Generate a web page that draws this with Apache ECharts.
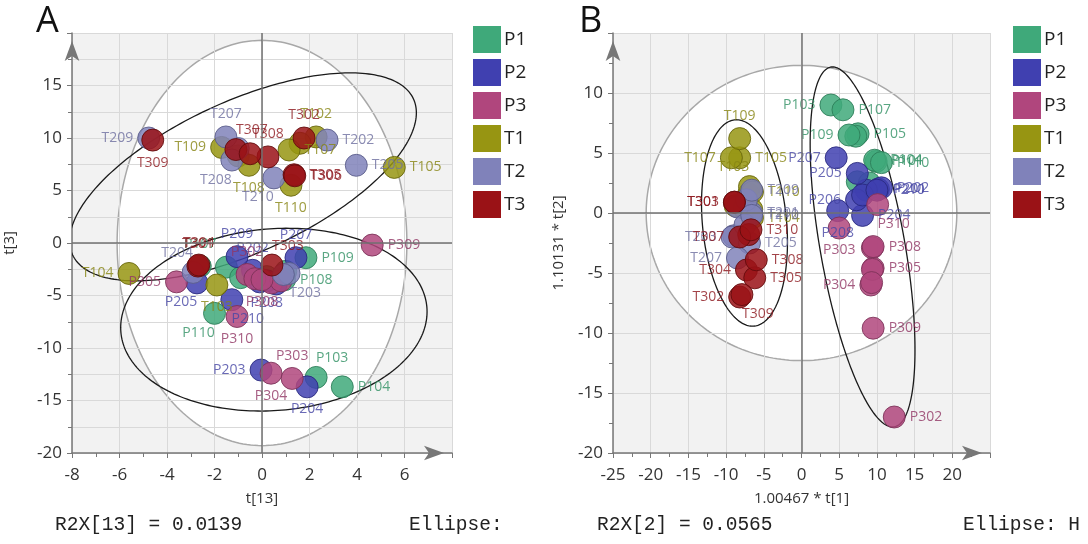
<!DOCTYPE html>
<html><head><meta charset="utf-8">
<script src="https://cdn.jsdelivr.net/npm/echarts@6/dist/echarts.min.js"></script>
<style>html,body{margin:0;padding:0;background:#fff}#c{width:1088px;height:544px}</style>
</head><body><div id="c"></div>
<script>
// ---------- data ----------
const GROUPS = ['P1','P2','P3','T1','T2','T3'];

// Panel A : t[13] vs t[3]
const A_P1 = [['P101',-1.5,-2.3],['P102',0.2,-3.2],['P103',2.28,-12.8],['P104',3.38,-13.7],['P105',1.0,-2.7],['P106',-0.9,-3.3],['P107',-2.6,-2.2],['P108',0.95,-3.5],['P109',1.85,-1.4],['P110',-2.0,-6.7]];
const A_P2 = [['P201',-0.1,-3.7],['P202',-0.4,-2.6],['P203',-0.04,-12.1],['P204',1.9,-13.7],['P205',-2.74,-3.8],['P206',0.6,-3.9],['P207',1.43,-1.4],['P208',0.2,-3.6],['P209',-1.05,-1.3],['P210',-1.27,-5.4]];
const A_P3 = [['P301',0.4,-3.8],['P302',-0.63,-3.0],['P303',1.27,-12.9],['P304',0.38,-12.4],['P305',-3.6,-3.7],['P306',-0.3,-3.4],['P307',0.8,-3.6],['P308',0.0,-3.5],['P309',4.64,-0.2],['P310',-1.05,-7.0]];
const A_T1 = [['T101',-1.0,8.3],['T102',2.28,10.1],['T103',-1.9,-4.0],['T104',-5.6,-2.9],['T105',5.57,7.2],['T106',1.6,9.5],['T107',1.14,8.86],['T108',-0.55,7.4],['T109',-1.7,9.1],['T110',1.22,5.5]];
const A_T2 = [['T201',-1.0,9.0],['T202',2.74,9.8],['T203',1.14,-2.9],['T204',-2.9,-2.8],['T205',3.97,7.4],['T206',0.9,-3.0],['T207',-1.52,10.1],['T208',-1.27,7.9],['T209',-4.77,10.0],['T210',0.5,6.2]];
const A_T3 = [['T301',-2.7,-2.2],['T302',1.77,10.0],['T303',0.42,-2.1],['T304',-2.66,-2.1],['T305',1.35,6.5],['T306',1.38,6.4],['T307',-1.1,8.9],['T308',0.25,8.2],['T309',-4.6,9.8],['T310',-0.5,8.5]];

// Panel B : 1.00467*t[1] vs 1.10131*t[2]
const B_P1 = [['P101',9.9,4.3],['P102',7.4,2.6],['P103',3.9,9.0],['P104',9.7,4.4],['P105',7.5,6.6],['P106',7.2,6.4],['P107',5.5,8.6],['P108',9.0,2.5],['P109',6.3,6.5],['P110',10.6,4.2]];
const B_P2 = [['P201',10.2,2.0],['P202',10.6,2.1],['P203',8.6,1.9],['P204',8.1,-0.2],['P205',7.4,3.3],['P206',7.3,1.1],['P207',4.6,4.6],['P208',4.8,0.2],['P209',8.1,1.5],['P210',10.0,1.9]];
const B_P3 = [['P301',9.4,-2.9],['P302',12.3,-17.0],['P303',5.0,-1.25],['P304',9.2,-6.0],['P305',9.5,-4.6],['P306',9.4,-4.7],['P307',9.3,-5.8],['P308',9.5,-2.8],['P309',9.5,-9.6],['P310',10.1,0.7]];
const B_T1 = [['T101',-7.0,1.6],['T102',-8.8,0.6],['T103',-6.9,2.2],['T104',-6.5,-0.4],['T105',-8.2,4.6],['T106',-6.6,0.3],['T107',-9.3,4.6],['T108',-7.6,0.4],['T109',-8.2,6.2],['T110',-6.5,1.75]];
const B_T2 = [['T201',-6.6,0.0],['T202',-9.0,-1.9],['T203',-9.2,-2.0],['T204',-8.5,0.5],['T205',-6.9,-2.5],['T206',-7.5,-1.0],['T207',-8.5,-3.75],['T208',-7.3,1.1],['T209',-6.6,1.9],['T210',-6.6,-0.2]];
const B_T3 = [['T301',-8.9,0.9],['T302',-8.2,-7.0],['T303',-8.9,0.9],['T304',-7.3,-4.75],['T305',-6.2,-5.4],['T306',-7.0,-1.8],['T307',-8.2,-2.0],['T308',-6.0,-3.9],['T309',-7.9,-6.8],['T310',-6.7,-1.4]];

// ellipses: [cx, cy, ax, ay, bx, by]  (point = c + a*cos t + b*sin t)
const A_HOTELLING = [[0,0,6.1,0,0,19.3]];
const A_GROUP_ELLIPSES = [[-0.8,6.3,7.3,6.1,0,7.8],[0.5,-7.3,6.45,0.76,0,8.67]];
const B_HOTELLING = [[0,0,20.6,0,0,12.3]];
const B_GROUP_ELLIPSES = [[-7.56,-0.83,-1.06,8.6,5.6,0],[8.1,-2.83,-3.98,15.0,5.7,0]];

// tick labels
const A_X_LABELS = [-8,-6,-4,-2,0,2,4,6];
const A_Y_LABELS = [-20,-15,-10,-5,0,5,10,15];
const B_X_LABELS = [-25,-20,-15,-10,-5,0,5,10,15,20];
const B_Y_LABELS = [-20,-15,-10,-5,0,5,10];

// ---------- styling (label placement per point) ----------
const A_LABEL = {P103:'tr',P104:'r',P107:'t',P108:'r',P109:'r',P110:'bl',
  P202:'t',P203:'l',P204:'b',P205:'bl',P207:'t',P208:'b',P209:'t',P210:'br',
  P302:'t',P303:'t',P304:'b',P305:'l',P308:'b',P309:'r',P310:'b',
  T102:'t',T103:'b',T104:'l',T105:'r',T107:'r',T108:'b',T109:'l',T110:'b',
  T202:'r',T203:'br',T204:'tl',T205:'r',T207:'t',T208:'bl',T209:'l',T210:'bl',
  T301:'t',T302:'t',T303:'tr',T304:'t',T305:'r',T306:'r',T307:'tr',T308:'t',T309:'b'};
const B_LABEL = {P101:'r',P103:'l',P104:'r',P105:'r',P107:'r',P109:'l',P110:'r',
  P201:'r',P202:'r',P204:'r',P205:'l',P206:'l',P207:'l',P208:'b',P210:'r',
  P302:'r',P303:'b',P304:'l',P305:'r',P308:'r',P309:'r',P310:'br',
  T103:'tl',T104:'r',T105:'r',T107:'l',T109:'t',T110:'r',
  T201:'r',T203:'l',T205:'r',T207:'l',T209:'r',T210:'r',
  T301:'l',T302:'l',T303:'l',T304:'l',T305:'r',T307:'l',T308:'r',T309:'br',T310:'r'};

const COLORS = {P1:'#3fa97a',P2:'#4040b0',P3:'#b0467d',T1:'#979512',T2:'#8082ba',T3:'#9a1216'};
const BORDERS = {P1:'#2b7b57',P2:'#28287c',P3:'#7a3157',T1:'#65640a',T2:'#585a88',T3:'#600a0c'};
const TEXTC = {P1:'rgba(50,145,100,0.95)',P2:'rgba(70,70,165,0.95)',P3:'rgba(145,55,100,0.95)',T1:'rgba(135,133,18,0.95)',T2:'rgba(110,112,160,0.95)',T3:'rgba(140,22,28,0.95)'};
const FONT = "'Open Sans', 'Noto Sans', sans-serif";

function labelCfg(code){
  const base = {show:true, fontSize:14, fontFamily:FONT, distance:4};
  switch(code){
    case 'l': return Object.assign(base,{position:'left'});
    case 'r': return Object.assign(base,{position:'right'});
    case 't': return Object.assign(base,{position:'top'});
    case 'b': return Object.assign(base,{position:'bottom'});
    case 'tl': return Object.assign(base,{position:'top',offset:[-16,3]});
    case 'tr': return Object.assign(base,{position:'top',offset:[16,3]});
    case 'bl': return Object.assign(base,{position:'bottom',offset:[-16,-3]});
    case 'br': return Object.assign(base,{position:'bottom',offset:[16,-3]});
  }
  return {show:false};
}

function scatter(idx, g, rows, labelMap){
  return {
    type:'scatter', name:g, xAxisIndex:idx, yAxisIndex:idx, z:3,
    symbolSize:22,
    itemStyle:{color:COLORS[g], borderColor:BORDERS[g], borderWidth:1, opacity:0.85},
    label:{color:TEXTC[g]},
    emphasis:{disabled:true},
    data: rows.map(r=>{
      const lc = labelCfg(labelMap[r[0]]);
      if(lc.show) lc.color = TEXTC[g];
      return {name:r[0], value:[r[1],r[2]], label:Object.assign(lc,{formatter:'{b}'})};
    })
  };
}

function ellipse(idx, list, fill, stroke, lw, z, extra){
  return Object.assign({
    type:'custom', xAxisIndex:idx, yAxisIndex:idx, z:z, silent:true, clip:true,
    data: list.map(e=>[e[0],e[1]]),
    encode:{x:0,y:1},
    renderItem:(params, api)=>{
      const e = list[params.dataIndex];
      const pts = [];
      for(let i=0;i<=240;i++){
        const t = i/240*2*Math.PI;
        pts.push(api.coord([e[0]+e[2]*Math.cos(t)+e[4]*Math.sin(t), e[1]+e[3]*Math.cos(t)+e[5]*Math.sin(t)]));
      }
      return {type:'polygon', shape:{points:pts}, style:{fill:fill, stroke:stroke, lineWidth:lw}};
    }
  }, extra||{});
}

const zeroLines = {
  silent:true, symbol:['none','none'], label:{show:false},
  lineStyle:{color:'#707070', width:1.5, type:'solid'},
  data:[{xAxis:0},{yAxis:0}]
};

function axis(idx, min, max, interval, labels, name, nameGap, isY, minorSplit){
  return {
    type:'value', gridIndex:idx, min, max, interval,
    name, nameLocation:'middle', nameGap,
    nameTextStyle:{fontSize:15, color:'#333', fontFamily:FONT},
    axisLine:{show:true, onZero:false, lineStyle:{color:'#777', width:1.5},
      symbol:['none','arrow'], symbolSize:[11,20], symbolOffset:[0,-8]},
    axisTick:{show:true, length:5, lineStyle:{color:'#777'}},
    minorTick:{show:true, splitNumber:2, length:4, lineStyle:{color:'#777'}},
    splitLine:{show:true, lineStyle:{color:'#d9d9d9', width:1}},
    minorSplitLine:{show:!!minorSplit, lineStyle:{color:'#d9d9d9', width:1}},
    axisLabel:{fontSize:17, color:'#333', fontFamily:FONT, margin: isY?10:14,
      formatter:v=> labels.indexOf(v)>=0 ? String(v) : ''}
  };
}

const A_ALL = [A_P1,A_P2,A_P3,A_T1,A_T2,A_T3];
const B_ALL = [B_P1,B_P2,B_P3,B_T1,B_T2,B_T3];

const series = [
  ellipse(0, A_HOTELLING, '#ffffff', '#a8a8a8', 1.5, -1),
  ellipse(0, A_GROUP_ELLIPSES, null, '#1a1a1a', 1.3, 1, {markLine:zeroLines}),
  ellipse(1, B_HOTELLING, '#ffffff', '#a8a8a8', 1.5, -1),
  ellipse(1, B_GROUP_ELLIPSES, null, '#1a1a1a', 1.3, 1, {markLine:zeroLines}),
];
GROUPS.forEach((g,i)=>series.push(scatter(0,g,A_ALL[i],A_LABEL)));
GROUPS.forEach((g,i)=>series.push(scatter(1,g,B_ALL[i],B_LABEL)));

function legend(left){
  return {orient:'vertical', left, top:21, itemWidth:28, itemHeight:27, itemGap:6,
    icon:'rect', data:GROUPS, selectedMode:false,
    itemStyle:{borderWidth:0, opacity:1},
    textStyle:{fontSize:19, color:'#222', fontFamily:FONT, padding:[0,0,0,-2]}};
}

const mono = "'Liberation Mono','DejaVu Sans Mono',monospace";
const option = {
  animation:false,
  backgroundColor:'#ffffff',
  grid:[
    {left:72, top:33, width:380, height:420, show:true, backgroundColor:'#f2f2f2', borderWidth:0, z:-3},
    {left:613, top:33, width:377, height:420, show:true, backgroundColor:'#f2f2f2', borderWidth:0, z:-3}
  ],
  xAxis:[
    axis(0,-8,8,2,A_X_LABELS,'t[13]',38,false,false),
    axis(1,-25,25,5,B_X_LABELS,'1.00467 * t[1]',38,false,false)
  ],
  yAxis:[
    axis(0,-20,20,5,A_Y_LABELS,'t[3]',55,true,true),
    axis(1,-20,15,5,B_Y_LABELS,'1.10131 * t[2]',47,true,false)
  ],
  legend:[legend(468), legend(1008)],
  graphic:[
    {type:'text', left:36, top:4, style:{text:'A', fontSize:36, fill:'#111', fontFamily:FONT}},
    {type:'text', left:579, top:4, style:{text:'B', fontSize:36, fill:'#111', fontFamily:FONT}},
    {type:'text', left:55, top:515, style:{text:'R2X[13] = 0.0139', fontSize:19.5, fill:'#222', fontFamily:mono}},
    {type:'text', left:409, top:515, style:{text:'Ellipse:', fontSize:19.5, fill:'#222', fontFamily:mono}},
    {type:'text', left:597, top:515, style:{text:'R2X[2] = 0.0565', fontSize:19.5, fill:'#222', fontFamily:mono}},
    {type:'text', left:963, top:515, style:{text:'Ellipse: H', fontSize:19.5, fill:'#222', fontFamily:mono}}
  ],
  series
};
const chart = echarts.init(document.getElementById('c'));
chart.setOption(option);
</script></body></html>
